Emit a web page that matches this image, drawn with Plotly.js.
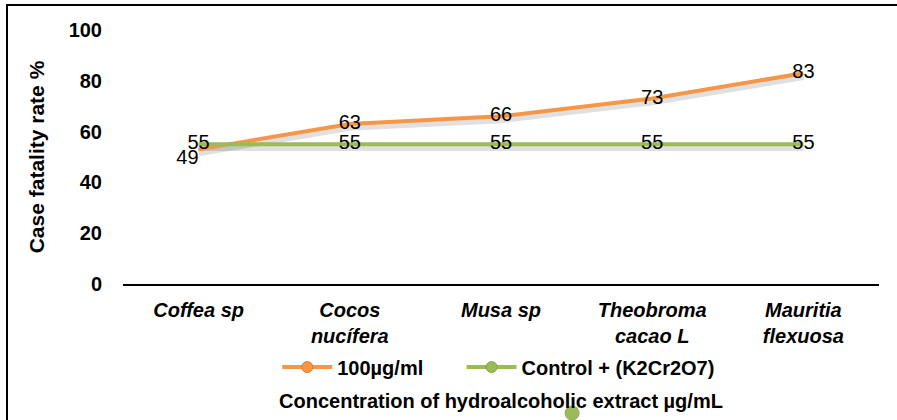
<!DOCTYPE html>
<html>
<head>
<meta charset="utf-8">
<script src="https://cdn.plot.ly/plotly-3.0.1.min.js"></script>
<style>
  html, body { margin: 0; padding: 0; background: #fff; }
  #wrap { position: relative; width: 897px; height: 420px; overflow: hidden; }
  #chart { width: 897px; height: 420px; }
  #frame { position: absolute; left: 6px; top: 4px; width: 1000px; height: 1000px;
           border-left: 2px solid #000; border-top: 2px solid #000; pointer-events: none; }
</style>
</head>
<body>
<div id="wrap"><div id="chart"></div><div id="frame"></div></div>
<script>
// ---- data ----
const categories = ['Coffea sp', 'Cocos<br>nucífera', 'Musa sp', 'Theobroma<br>cacao L', 'Mauritia<br>flexuosa'];
const series1Name = '100µg/ml';
const series1Values = [53, 63, 66, 73, 83];
const series1Labels = ['49', '63', '66', '73', '83'];
const series2Name = 'Control + (K2Cr2O7)';
const series2Values = [55, 55, 55, 55, 55];
const series2Labels = ['55', '55', '55', '55', '55'];
const yTicks = [0, 20, 40, 60, 80, 100];

const FONT = 'Liberation Sans, Arial, sans-serif';
const ORANGE = '#F79646';
const GREEN = '#9BBB59';
const PAD = '\u00a0\u00a0\u00a0\u00a0\u00a0\u00a0';

const traces = [
  // soft shadows (drawn on a slightly shifted hidden axis)
  { x: categories, y: series1Values, type: 'scatter', mode: 'lines', yaxis: 'y',
    line: { color: 'rgba(0,0,0,0.12)', width: 7 }, showlegend: false, hoverinfo: 'skip' },
  { x: categories, y: series2Values, type: 'scatter', mode: 'lines', yaxis: 'y',
    line: { color: 'rgba(0,0,0,0.12)', width: 7 }, showlegend: false, hoverinfo: 'skip' },
  // main series
  { x: categories, y: series1Values, name: series1Name, type: 'scatter', yaxis: 'y2',
    mode: 'lines+text', text: series1Labels, showlegend: false,
    textposition: ['bottom left', 'middle center', 'middle center', 'middle center', 'middle center'],
    textfont: { family: FONT, size: 20, color: '#000' },
    line: { color: ORANGE, width: 4 } },
  { x: categories, y: series2Values, name: series2Name, type: 'scatter', yaxis: 'y2',
    mode: 'lines+text', text: series2Labels, showlegend: false,
    textposition: 'middle center',
    textfont: { family: FONT, size: 20, color: '#000' },
    line: { color: GREEN, width: 4 } },
  // legend entries
  { x: [null], y: [null], name: series1Name + PAD, type: 'scatter', yaxis: 'y2',
    mode: 'lines+markers', line: { color: ORANGE, width: 4 },
    marker: { color: ORANGE, size: 11, line: { color: '#E0782C', width: 1 } } },
  { x: [null], y: [null], name: series2Name, type: 'scatter', yaxis: 'y2',
    mode: 'lines+markers', line: { color: GREEN, width: 4 },
    marker: { color: GREEN, size: 11, line: { color: '#86A63F', width: 1 } } }
];

const layout = {
  width: 897, height: 420,
  margin: { l: 123, r: 18, t: 30, b: 136 },
  paper_bgcolor: '#fff', plot_bgcolor: '#fff',
  font: { family: FONT, color: '#000' },
  showlegend: true,
  legend: { orientation: 'h', x: 0.497, xanchor: 'center', y: -0.327, yanchor: 'middle',
            font: { family: FONT, size: 20, weight: 'bold', color: '#000' },
            itemwidth: 50, tracegroupgap: 0 },
  xaxis: {
    type: 'category', range: [-0.5, 4.5], showgrid: false, zeroline: false,
    showline: true, linecolor: '#000', linewidth: 1.5,
    ticks: 'outside', ticklen: 7, tickcolor: 'rgba(0,0,0,0)',
    tickfont: { family: FONT, size: 20, weight: 'bold', style: 'italic', color: '#000' },
    title: { text: 'Concentration of hydroalcoholic extract µg/mL', standoff: 48,
             font: { family: FONT, size: 20, weight: 'bold', color: '#000' } },
    automargin: false, fixedrange: true
  },
  yaxis: { range: [1.3, 101.3], visible: false, fixedrange: true },
  yaxis2: {
    overlaying: 'y', side: 'left', range: [0, 100], tickvals: yTicks,
    showgrid: false, zeroline: false, showline: false,
    ticks: 'outside', ticklen: 16, tickcolor: 'rgba(0,0,0,0)',
    tickfont: { family: FONT, size: 20, weight: 'bold', color: '#000' },
    title: { text: 'Case fatality rate %', standoff: 18,
             font: { family: FONT, size: 21, weight: 'bold', color: '#000' } },
    automargin: false, fixedrange: true
  },
  shapes: [
    { type: 'circle', xref: 'paper', yref: 'paper', xsizemode: 'pixel', ysizemode: 'pixel',
      xanchor: 0.594, yanchor: -0.508, x0: -7, x1: 7, y0: -7, y1: 7,
      fillcolor: GREEN, line: { color: '#8EAE4C', width: 1 } }
  ]
};

Plotly.newPlot('chart', traces, layout, { displayModeBar: false, staticPlot: true });
</script>
</body>
</html>
